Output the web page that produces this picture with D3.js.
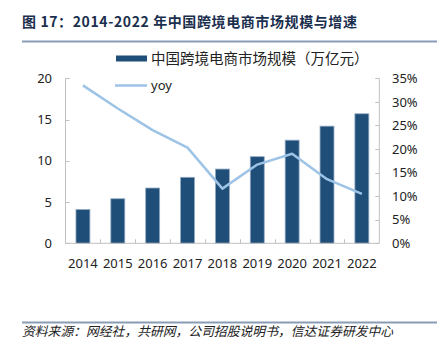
<!DOCTYPE html>
<html><head><meta charset="utf-8">
<script src="https://cdn.jsdelivr.net/npm/d3@7"></script>
<style>
html,body{margin:0;padding:0;background:#fff;}
svg{display:block;}
</style></head>
<body>
<svg id="c" width="440" height="350"></svg>
<script>
const years = ["2014","2015","2016","2017","2018","2019","2020","2021","2022"];
const marketSize = [4.1, 5.4, 6.7, 8.0, 9.0, 10.5, 12.5, 14.2, 15.7];
const yoy = [0.335, 0.286, 0.24, 0.203, 0.116, 0.167, 0.19, 0.136, 0.105];
const leftTicks = [0, 5, 10, 15, 20];
const rightTicks = [0, 0.05, 0.10, 0.15, 0.20, 0.25, 0.30, 0.35];
const titleText = "图 17：2014-2022 年中国跨境电商市场规模与增速";
const sourceText = "资料来源：网经社，共研网，公司招股说明书，信达证券研发中心";
const legendBar = "中国跨境电商市场规模（万亿元）";
const legendLine = "yoy";

const svg = d3.select("#c");
const L = 65.5, R = 379.3, T = 78.3, B = 243.3;
const axisColor = "#c0c0c0";
const barColor = "#1f4e79";
const lineColor = "#9dc3e6";
const font = "'Noto Sans','DejaVu Sans',sans-serif";
const cjk = "'Noto Sans CJK SC','Noto Sans',sans-serif";

// Title
svg.append("text").attr("x", 22).attr("y", 27)
  .attr("font-family", cjk).attr("font-weight", "bold").attr("font-size", 14)
  .attr("letter-spacing", 0.6)
  .attr("fill", "#1b2f4e").text(titleText);
svg.append("line").attr("x1", 22).attr("x2", 437).attr("y1", 41.5).attr("y2", 41.5)
  .attr("stroke", "#8a9bb5").attr("stroke-width", 2);

// Footer
svg.append("line").attr("x1", 22).attr("x2", 437).attr("y1", 322.5).attr("y2", 322.5)
  .attr("stroke", "#8a9bb5").attr("stroke-width", 2);
svg.append("text").attr("x", 22).attr("y", 336)
  .attr("font-family", cjk).attr("font-style", "italic").attr("font-size", 12.8)
  .attr("fill", "#222").text(sourceText);

const x = d3.scaleBand().domain(years).range([L, R]).paddingInner(0.6).paddingOuter(0.3);
const yL = d3.scaleLinear().domain([0, 20]).range([B, T]);
const yR = d3.scaleLinear().domain([0, 0.35]).range([B, T]);

// Axis lines
svg.append("line").attr("x1", L).attr("x2", L).attr("y1", T).attr("y2", B).attr("stroke", axisColor);
svg.append("line").attr("x1", R).attr("x2", R).attr("y1", T).attr("y2", B).attr("stroke", axisColor);

// Left ticks
const lt = svg.append("g");
leftTicks.forEach(v => {
  const y = Math.round(yL(v)) + 0.5;
  lt.append("line").attr("x1", L).attr("x2", L + 4).attr("y1", y).attr("y2", y).attr("stroke", axisColor);
  lt.append("text").attr("x", 52).attr("y", yL(v)).attr("dy", "0.36em")
    .attr("text-anchor", "end").attr("font-family", font).attr("font-size", 13)
    .attr("fill", "#222").text(d3.format("d")(v));
});
// Right ticks
const rt = svg.append("g");
rightTicks.forEach(v => {
  const y = Math.round(yR(v)) + 0.5;
  rt.append("line").attr("x1", R - 4).attr("x2", R).attr("y1", y).attr("y2", y).attr("stroke", axisColor);
  rt.append("text").attr("x", 392).attr("y", yR(v)).attr("dy", "0.36em")
    .attr("text-anchor", "start").attr("font-family", font).attr("font-size", 13)
    .attr("fill", "#222").text(d3.format(".0%")(v));
});

// Bars
svg.append("g").selectAll("rect").data(years).join("rect")
  .attr("x", d => x(d))
  .attr("y", (d, i) => yL(marketSize[i]))
  .attr("width", x.bandwidth())
  .attr("height", (d, i) => B - yL(marketSize[i]))
  .attr("fill", barColor).attr("stroke", "#93aac4").attr("stroke-width", 0.8);

// X axis baseline and ticks
svg.append("line").attr("x1", L).attr("x2", R).attr("y1", B).attr("y2", B).attr("stroke", axisColor);
const step = x.step();
years.forEach((d, i) => {
  const bx = Math.round(x(d) - (step - x.bandwidth()) / 2) + 0.5;
  if (i > 0) svg.append("line").attr("x1", bx).attr("x2", bx).attr("y1", B - 4).attr("y2", B).attr("stroke", axisColor);
  svg.append("text").attr("x", x(d) + x.bandwidth() / 2).attr("y", 263).attr("dy", "0.36em")
    .attr("text-anchor", "middle").attr("font-family", font).attr("font-size", 13)
    .attr("fill", "#222").text(d);
});

// Line
const line = d3.line().x((d, i) => x(years[i]) + x.bandwidth() / 2).y(d => yR(d));
svg.append("path").datum(yoy).attr("d", line).attr("fill", "none")
  .attr("stroke", lineColor).attr("stroke-width", 2.5).attr("stroke-linejoin", "round");

// Legend
svg.append("rect").attr("x", 116).attr("y", 55.5).attr("width", 31).attr("height", 6).attr("fill", barColor);
svg.append("text").attr("x", 151).attr("y", 58.5).attr("dy", "0.36em")
  .attr("font-family", cjk).attr("font-size", 14.5).attr("fill", "#222").text(legendBar);
svg.append("line").attr("x1", 115).attr("x2", 147).attr("y1", 85.5).attr("y2", 85.5)
  .attr("stroke", lineColor).attr("stroke-width", 2.5);
svg.append("text").attr("x", 151).attr("y", 85).attr("dy", "0.36em")
  .attr("font-family", font).attr("font-size", 13).attr("fill", "#222").text(legendLine);
</script>
</body></html>
